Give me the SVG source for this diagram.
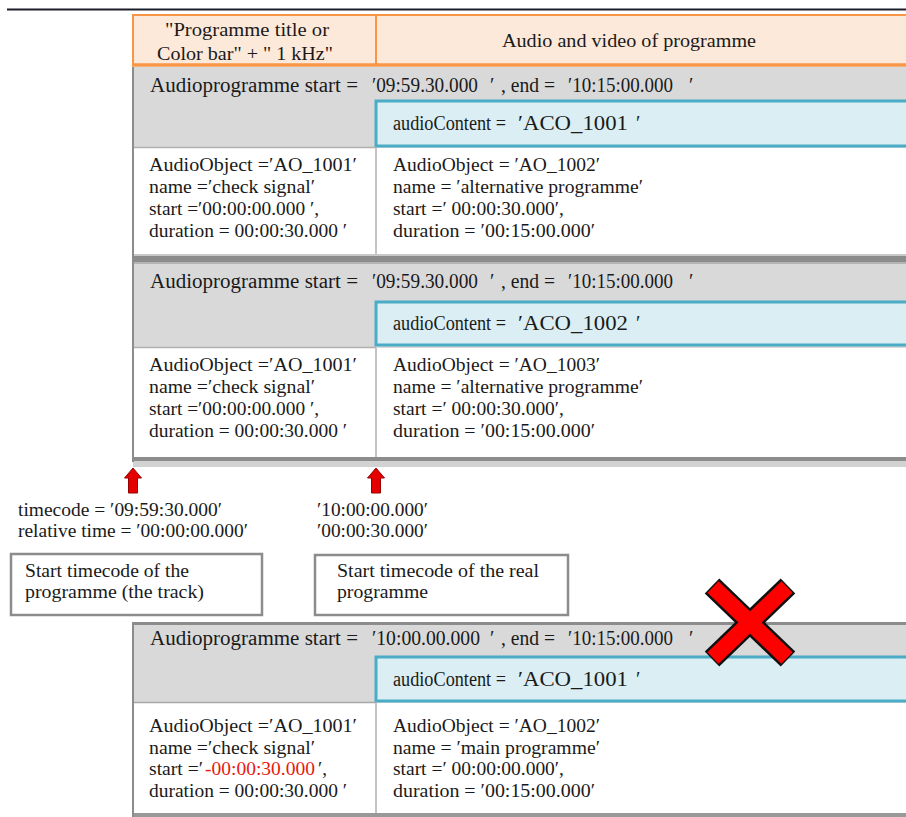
<svg xmlns="http://www.w3.org/2000/svg" width="906" height="817" viewBox="0 0 906 817">
<style>
text{font-family:"Liberation Serif","Times New Roman",serif;fill:#1a1a1a}
.h{font-size:19.5px}
.r{font-size:20px}
.t{font-size:19px}
.l{font-size:19px}
.gray{fill:#d9d9d9}
.blue{fill:#daeef3;stroke:#4bacc6;stroke-width:3}
.div{stroke:#c4c4c4;stroke-width:2}
.edge{stroke:#8c8c8c;stroke-width:2}
.lbl{fill:#fff;stroke:#8c8c8c;stroke-width:2.5}
.arrow{fill:#e50000;stroke:#900;stroke-width:1}
.red{fill:#e8190f}
</style>
<rect width="906" height="817" fill="#fff"/>
<line x1="7" y1="9.5" x2="906" y2="9.5" stroke="#1c1c2a" stroke-width="2"/>

<g id="header">
<rect x="133" y="15" width="790" height="50" fill="#fde9d9" stroke="#f79646" stroke-width="2"/>
<line x1="132" y1="65" x2="906" y2="65" stroke="#f79646" stroke-width="3.5"/>
<line x1="376" y1="15" x2="376" y2="64" stroke="#f79646" stroke-width="2"/>
<text class="h" x="165" y="36" textLength="164" lengthAdjust="spacingAndGlyphs">"Programme title or</text>
<text class="h" x="157" y="60" textLength="176" lengthAdjust="spacingAndGlyphs">Color bar" + " 1 kHz"</text>
<text class="h" x="502" y="47" textLength="254" lengthAdjust="spacingAndGlyphs">Audio and video of programme</text>
</g>

<g id="block1">
<rect class="gray" x="133" y="67" width="773" height="81"/>
<rect class="blue" x="376" y="101" width="540" height="45"/>
<line x1="133" y1="147.5" x2="376" y2="147.5" stroke="#b0b0b0" stroke-width="1.5"/>
<line class="div" x1="376" y1="148" x2="376" y2="255"/>
<text class="r" x="150" y="92" textLength="208" lengthAdjust="spacingAndGlyphs">Audioprogramme start =</text>
<text class="r" x="372" y="92" textLength="106" lengthAdjust="spacingAndGlyphs">′09:59.30.000</text>
<text class="r" x="490" y="92">′</text>
<text class="r" x="501" y="92" textLength="54" lengthAdjust="spacingAndGlyphs">, end =</text>
<text class="r" x="568" y="92" textLength="105" lengthAdjust="spacingAndGlyphs">′10:15:00.000</text>
<text class="r" x="689" y="92">′</text>
<text class="r" x="393" y="130" textLength="113" lengthAdjust="spacingAndGlyphs">audioContent =</text>
<text class="r" x="518" y="130" textLength="110" lengthAdjust="spacingAndGlyphs">′ACO_1001</text>
<text class="r" x="636" y="130">′</text>
<text class="t" x="149" y="171" textLength="208" lengthAdjust="spacingAndGlyphs">AudioObject =′AO_1001′</text>
<text class="t" x="149" y="193" textLength="166" lengthAdjust="spacingAndGlyphs">name =′check signal′</text>
<text class="t" x="149" y="215" textLength="170" lengthAdjust="spacingAndGlyphs">start =′00:00:00.000 ′,</text>
<text class="t" x="149" y="237" textLength="198" lengthAdjust="spacingAndGlyphs">duration = 00:00:30.000 ′</text>
<text class="t" x="393" y="171" textLength="207" lengthAdjust="spacingAndGlyphs">AudioObject = ′AO_1002′</text>
<text class="t" x="393" y="193" textLength="250" lengthAdjust="spacingAndGlyphs">name = ′alternative programme′</text>
<text class="t" x="393" y="215" textLength="171" lengthAdjust="spacingAndGlyphs">start =′ 00:00:30.000′,</text>
<text class="t" x="393" y="237" textLength="202" lengthAdjust="spacingAndGlyphs">duration = ′00:15:00.000′</text>
</g>

<g id="separator1">
<rect x="133" y="254" width="773" height="2" fill="#c8c8c8"/>
<rect x="133" y="256" width="773" height="6" fill="#8c8c8c"/>
<rect x="133" y="262" width="773" height="2" fill="#b4b4b4"/>
</g>

<g id="block2">
<rect class="gray" x="133" y="264" width="773" height="84"/>
<rect class="blue" x="376" y="302" width="540" height="43"/>
<line x1="133" y1="347.5" x2="376" y2="347.5" stroke="#b0b0b0" stroke-width="1.5"/>
<line class="div" x1="376" y1="348" x2="376" y2="457"/>
<text class="r" x="150" y="288" textLength="208" lengthAdjust="spacingAndGlyphs">Audioprogramme start =</text>
<text class="r" x="372" y="288" textLength="106" lengthAdjust="spacingAndGlyphs">′09:59.30.000</text>
<text class="r" x="490" y="288">′</text>
<text class="r" x="501" y="288" textLength="54" lengthAdjust="spacingAndGlyphs">, end =</text>
<text class="r" x="568" y="288" textLength="105" lengthAdjust="spacingAndGlyphs">′10:15:00.000</text>
<text class="r" x="689" y="288">′</text>
<text class="r" x="393" y="330" textLength="113" lengthAdjust="spacingAndGlyphs">audioContent =</text>
<text class="r" x="518" y="330" textLength="110" lengthAdjust="spacingAndGlyphs">′ACO_1002</text>
<text class="r" x="636" y="330">′</text>
<text class="t" x="149" y="371" textLength="208" lengthAdjust="spacingAndGlyphs">AudioObject =′AO_1001′</text>
<text class="t" x="149" y="393" textLength="166" lengthAdjust="spacingAndGlyphs">name =′check signal′</text>
<text class="t" x="149" y="415" textLength="170" lengthAdjust="spacingAndGlyphs">start =′00:00:00.000 ′,</text>
<text class="t" x="149" y="437" textLength="198" lengthAdjust="spacingAndGlyphs">duration = 00:00:30.000 ′</text>
<text class="t" x="393" y="371" textLength="207" lengthAdjust="spacingAndGlyphs">AudioObject = ′AO_1003′</text>
<text class="t" x="393" y="393" textLength="250" lengthAdjust="spacingAndGlyphs">name = ′alternative programme′</text>
<text class="t" x="393" y="415" textLength="171" lengthAdjust="spacingAndGlyphs">start =′ 00:00:30.000′,</text>
<text class="t" x="393" y="437" textLength="202" lengthAdjust="spacingAndGlyphs">duration = ′00:15:00.000′</text>
</g>

<g id="separator2">
<rect x="133" y="457" width="773" height="4" fill="#8c8c8c"/>
<rect x="133" y="461" width="773" height="6" fill="#d2d2d2"/>
</g>
<line class="edge" x1="133" y1="67" x2="133" y2="462"/>

<g id="connectors">
<path class="arrow" d="M133,468 L141.5,478 L137.5,478 L137.5,493 L128.5,493 L128.5,478 L124.5,478 Z"/>
<path class="arrow" d="M376,468 L384.5,478 L380.5,478 L380.5,493 L371.5,493 L371.5,478 L367.5,478 Z"/>
</g>

<g id="label-start-track">
<text class="l" x="18" y="516" textLength="204" lengthAdjust="spacingAndGlyphs">timecode = ′09:59:30.000′</text>
<text class="l" x="18" y="537" textLength="230" lengthAdjust="spacingAndGlyphs">relative time = ′00:00:00.000′</text>
</g>
<g id="label-start-real">
<text class="l" x="317" y="516" textLength="111" lengthAdjust="spacingAndGlyphs">′10:00:00.000′</text>
<text class="l" x="317" y="537" textLength="111" lengthAdjust="spacingAndGlyphs">′00:00:30.000′</text>
</g>

<g id="box-track">
<rect class="lbl" x="11" y="554" width="251" height="61"/>
<text class="l" x="25" y="577" textLength="164" lengthAdjust="spacingAndGlyphs">Start timecode of the</text>
<text class="l" x="25" y="598" textLength="179" lengthAdjust="spacingAndGlyphs">programme (the track)</text>
</g>
<g id="box-real">
<rect class="lbl" x="315" y="555" width="253" height="60"/>
<text class="l" x="337" y="577" textLength="202" lengthAdjust="spacingAndGlyphs">Start timecode of the real</text>
<text class="l" x="337" y="598" textLength="91" lengthAdjust="spacingAndGlyphs">programme</text>
</g>

<g id="block3">
<rect x="133" y="622" width="773" height="3" fill="#8c8c8c"/>
<rect class="gray" x="133" y="625" width="773" height="78"/>
<rect class="blue" x="376" y="657" width="540" height="44"/>
<line x1="133" y1="702.5" x2="376" y2="702.5" stroke="#a8a8a8" stroke-width="1.5"/>
<line class="div" x1="376" y1="703" x2="376" y2="813"/>
<rect x="133" y="813" width="773" height="4" fill="#999"/>
<line class="edge" x1="133" y1="622" x2="133" y2="817"/>
<text class="r" x="150" y="645" textLength="208" lengthAdjust="spacingAndGlyphs">Audioprogramme start =</text>
<text class="r" x="372" y="645" textLength="108" lengthAdjust="spacingAndGlyphs">′10:00.00.000</text>
<text class="r" x="490" y="645">′</text>
<text class="r" x="501" y="645" textLength="54" lengthAdjust="spacingAndGlyphs">, end =</text>
<text class="r" x="568" y="645" textLength="105" lengthAdjust="spacingAndGlyphs">′10:15:00.000</text>
<text class="r" x="689" y="645">′</text>
<text class="r" x="393" y="686" textLength="113" lengthAdjust="spacingAndGlyphs">audioContent =</text>
<text class="r" x="518" y="686" textLength="110" lengthAdjust="spacingAndGlyphs">′ACO_1001</text>
<text class="r" x="636" y="686">′</text>
<text class="t" x="149" y="732" textLength="208" lengthAdjust="spacingAndGlyphs">AudioObject =′AO_1001′</text>
<text class="t" x="149" y="754" textLength="166" lengthAdjust="spacingAndGlyphs">name =′check signal′</text>
<text class="t" x="149" y="775" textLength="54" lengthAdjust="spacingAndGlyphs">start =′</text>
<text class="t red" x="205" y="775" textLength="110" lengthAdjust="spacingAndGlyphs">-00:00:30.000</text>
<text class="t" x="318" y="775">′,</text>
<text class="t" x="149" y="797" textLength="198" lengthAdjust="spacingAndGlyphs">duration = 00:00:30.000 ′</text>
<text class="t" x="393" y="732" textLength="207" lengthAdjust="spacingAndGlyphs">AudioObject = ′AO_1002′</text>
<text class="t" x="393" y="754" textLength="207" lengthAdjust="spacingAndGlyphs">name = ′main programme′</text>
<text class="t" x="393" y="775" textLength="171" lengthAdjust="spacingAndGlyphs">start =′ 00:00:00.000′,</text>
<text class="t" x="393" y="797" textLength="202" lengthAdjust="spacingAndGlyphs">duration = ′00:15:00.000′</text>
</g>

<g id="cross">
<line x1="712" y1="586" x2="788" y2="659" stroke="#111" stroke-width="21"/>
<line x1="788" y1="586" x2="712" y2="659" stroke="#111" stroke-width="21"/>
<line x1="713" y1="587" x2="787" y2="658" stroke="#f00" stroke-width="16"/>
<line x1="787" y1="587" x2="713" y2="658" stroke="#f00" stroke-width="16"/>
</g>
</svg>
